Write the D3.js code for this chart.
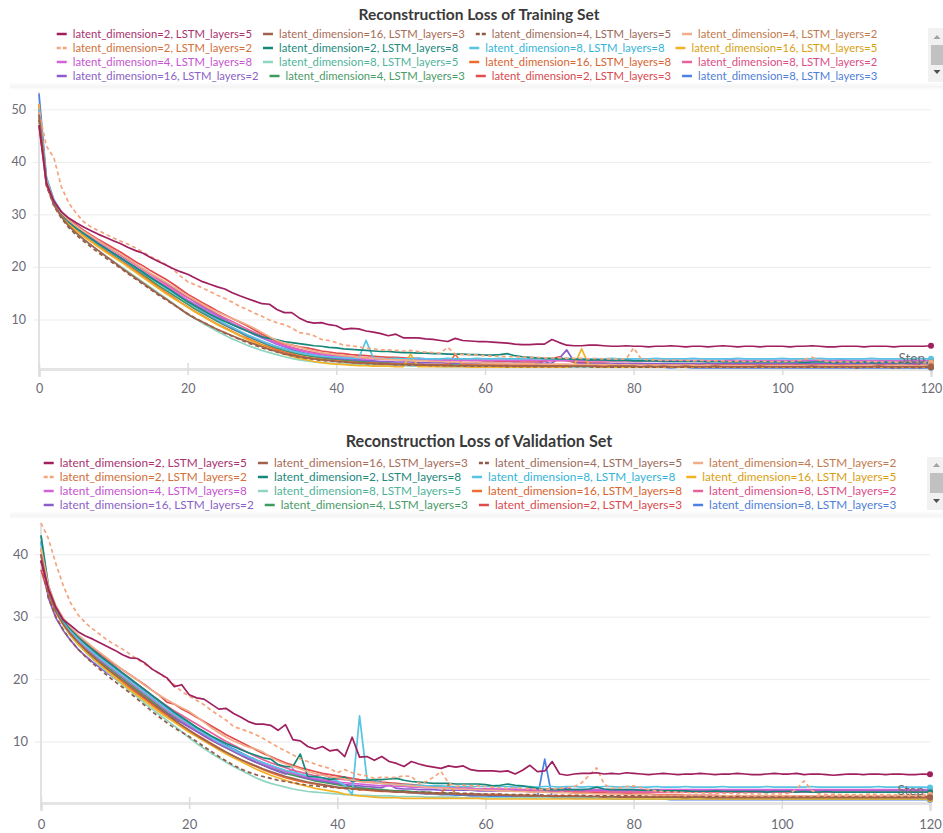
<!DOCTYPE html>
<html>
<head>
<meta charset="utf-8">
<script src="https://cdn.jsdelivr.net/npm/d3@7/dist/d3.min.js"></script>
<style>
  body { margin: 0; background: #fff; }
  svg { display: block; font-family: "Source Sans Pro", Lato, "Noto Sans", sans-serif; }
</style>
</head>
<body>
<script>
//x values: training step of every logged point
var steps = d3.range(0, 121);
var xTicks = [0, 20, 40, 60, 80, 100, 120];
var trainYTicks = [10, 20, 30, 40, 50];
var validYTicks = [10, 20, 30, 40];

//runs, in legend order
var runNames = [
  "latent_dimension=2, LSTM_layers=5", "latent_dimension=16, LSTM_layers=3", "latent_dimension=4, LSTM_layers=5", "latent_dimension=4, LSTM_layers=2",
  "latent_dimension=2, LSTM_layers=2", "latent_dimension=2, LSTM_layers=8", "latent_dimension=8, LSTM_layers=8", "latent_dimension=16, LSTM_layers=5",
  "latent_dimension=4, LSTM_layers=8", "latent_dimension=8, LSTM_layers=5", "latent_dimension=16, LSTM_layers=8", "latent_dimension=8, LSTM_layers=2",
  "latent_dimension=16, LSTM_layers=2", "latent_dimension=4, LSTM_layers=3", "latent_dimension=2, LSTM_layers=3", "latent_dimension=8, LSTM_layers=3"
];
var lineColors = ["#a01f5f", "#a0624c", "#8f5a48", "#f1ac88", "#f4a57e", "#17877a", "#56c4e2", "#f2b328",
                  "#d363d8", "#8fd5c1", "#ee6c30", "#e9619a", "#8c5ccd", "#3e9a5e", "#e24c4c", "#4d80e4"];
var labelColors = ["#a8326e", "#a86b57", "#9b6b5b", "#c27a4e", "#d2703a", "#23897c", "#35b4d8", "#d9a012",
                   "#c653cf", "#4fb39a", "#d86430", "#dc4c86", "#8a62c5", "#4b9a67", "#d84a4e", "#4f80d8"];
var dashedRuns = ["latent_dimension=4, LSTM_layers=5", "latent_dimension=2, LSTM_layers=2"];

//reconstruction loss, training set
var train_2_5 = [47,36,32.5,30.5,29.3,28.4,27.6,26.9,26.2,25.6,25.0,
  24.4,23.7,23.1,22.6,21.8,21.1,20.4,19.7,19.1,18.6, 17.9,17.2,16.7,16.2,15.8,15.1,14.5,14.0,13.5,13.0,
  12.9,11.9,11.3,11.3,10.3,9.6,9.3,9.4,9.0,8.8, 8.1,8.3,8.2,7.8,7.6,7.3,6.9,7.2,6.5,6.5,
  6.5,6.3,6.2,6.0,5.8,6.4,6.0,5.9,5.8,5.8, 5.7,5.6,5.5,5.3,5.2,5.2,5.3,5.3,6.2,5.6,
  5.1,5.0,5.0,5.1,5.1,5.0,4.9,4.9,5.0,4.9, 4.9,4.8,4.9,4.9,5.0,4.9,4.8,4.9,4.9,4.8,
  4.9,5.0,4.9,4.8,4.9,4.9,4.8,4.9,4.9,4.9, 4.8,4.9,4.9,5.0,4.9,4.8,4.8,4.9,4.9,4.9,
  4.8,4.9,4.9,4.9,4.8,4.9,4.9,4.9,4.9,5.0];
var train_16_3 = [49,36,31.8,29.6,27.8,26.5,25.3,24.2,23.1,22.0,21.0,
  19.9,18.9,17.9,16.9,15.9,14.9,14.0,13.0,12.0,11.0, 10.2,9.5,8.8,8.1,7.5,6.9,6.3,5.8,5.3,4.8,
  4.3,3.9,3.5,3.2,2.9,2.7,2.5,2.3,2.2,2.0, 1.9,1.8,1.7,1.7,1.6,1.5,1.5,1.4,1.4,1.4,
  1.3,1.3,1.3,1.3,1.2,1.2,1.2,1.2,1.2,1.2, 1.2,1.1,1.2,1.1,1.1,1.1,1.2,1.1,1.1,1.1,
  1.1,1.1,1.1,1.1,1.1,1.0,1.1,1.1,1.1,1.1, 1.0,1.1,1.0,1.1,1.0,1.0,1.1,1.0,1.0,1.0,
  1.1,1.0,1.0,1.0,1.0,1.0,1.1,1.0,1.0,1.0, 1.0,1.0,1.0,1.1,1.0,1.0,1.0,1.0,1.0,1.0,
  1.0,1.0,1.1,1.0,1.0,1.0,1.0,1.0,1.0,1.1];
var train_4_5 = [48,35.5,31.6,29.3,27.5,26.1,24.9,23.8,22.7,21.7,20.7,
  19.7,18.7,17.7,16.7,15.7,14.7,13.8,12.9,12.0,11.1, 10.3,9.5,8.8,8.1,7.4,6.8,6.2,5.6,5.1,4.6,
  4.2,3.8,3.4,3.1,2.8,2.6,2.4,2.2,2.1,2.0, 1.9,1.8,1.7,1.6,1.6,1.5,1.5,1.4,1.4,1.3,
  1.3,1.3,1.2,1.2,1.2,1.2,1.1,1.1,1.1,1.1, 1.1,1.1,1.0,1.1,1.0,1.0,1.0,1.0,1.0,1.0,
  1.0,1.0,1.0,1.0,0.9,1.0,0.9,0.9,1.0,0.9, 0.9,0.9,0.9,0.9,0.9,0.9,0.9,0.9,0.9,0.9,
  0.9,0.9,0.9,0.9,0.9,0.9,0.9,0.9,0.9,0.9, 0.9,0.9,0.9,0.9,0.9,0.9,0.9,0.9,0.9,0.8,
  0.9,0.9,0.9,0.9,0.8,0.9,0.9,0.8,0.9,0.9];
var train_4_2 = [49,36.5,32.5,30.3,28.9,27.8,26.8,25.9,25.0,24.1,23.2,
  22.4,21.5,20.6,19.7,18.8,18.0,17.2,16.3,15.4,14.5, 13.7,12.9,12.1,11.4,10.8,10.2,9.6,9.0,8.3,7.5,
  6.7,6.0,5.5,5.1,4.7,4.3,4.0,3.7,3.5,3.3, 3.1,3.0,2.8,2.7,2.6,2.5,2.4,2.3,2.3,2.2,
  2.1,2.1,2.0,2.0,1.9,1.9,1.8,1.8,1.8,1.7, 1.7,1.7,1.6,1.6,1.6,1.6,1.5,1.5,1.5,1.5,
  1.5,1.4,1.4,1.4,1.4,1.4,1.4,1.3,1.4,1.3, 1.3,1.3,1.3,1.3,1.3,1.3,1.3,1.3,1.2,1.3,
  1.2,1.2,1.2,1.2,1.2,1.2,1.2,1.2,1.2,1.2, 1.2,1.2,1.2,1.2,1.2,1.2,1.2,1.1,1.2,1.2,
  1.2,1.2,1.1,1.2,1.2,1.2,1.2,1.1,1.2,1.2];
var train_2_2 = [49.5,43,40.8,35.3,32.2,30.2,28.6,27.6,26.9,26.2,25.5,
  24.9,24.3,23.6,22.8,22.0,21.3,20.5,19.6,18.3,17.2, 16.6,16.0,15.3,14.6,14.0,13.3,12.5,11.9,11.2,10.6,
  9.9,9.4,9.0,8.4,7.5,7.3,6.9,6.2,6.0,5.6, 5.1,5.0,4.8,4.5,4.4,4.2,4.2,4.1,4.0,4.1,
  3.9,3.8,3.7,3.6,4.7,3.4,3.3,3.3,3.2,3.1, 3.0,3.0,2.9,2.9,2.8,2.8,2.8,2.7,2.7,2.7,
  2.6,2.6,2.6,2.5,2.6,2.5,2.5,2.4,2.5,4.6, 2.5,2.3,2.3,2.2,2.3,2.2,2.2,2.1,2.2,2.1,
  2.1,2.1,2.0,2.1,2.0,2.0,2.1,2.0,2.0,2.0, 2.0,2.1,2.4,2.8,2.3,2.0,1.9,2.0,1.9,1.9,
  1.9,2.0,1.9,1.9,1.9,1.8,1.9,1.9,1.8,1.8];
var train_2_8 = [49,36.5,32.3,30.1,28.6,27.4,26.4,25.4,24.4,23.5,22.6,
  21.7,20.8,19.9,19.0,18.0,17.1,16.2,15.3,14.3,13.4, 12.6,11.8,11.0,10.3,9.6,9.0,8.4,7.8,7.2,6.7,
  6.4,6.1,5.8,5.6,5.4,5.2,5.0,4.9,4.7,4.6, 4.4,4.3,4.2,4.1,4.0,3.9,3.9,3.8,3.7,3.7,
  3.6,3.6,3.5,3.5,3.4,3.4,3.4,3.3,3.3,3.2, 3.2,3.3,3.5,3.1,2.9,2.8,2.7,2.6,2.6,2.5,
  2.5,2.4,2.4,2.3,2.3,2.3,2.2,2.2,2.2,2.1, 2.1,2.1,2.1,2.0,2.0,2.0,2.0,2.0,2.0,1.9,
  2.0,1.9,1.9,1.9,1.9,1.9,1.9,1.9,1.9,1.9, 1.9,1.9,1.8,1.9,1.9,1.9,1.8,1.9,1.9,1.8,
  1.9,1.8,1.8,1.9,1.8,1.8,1.8,1.9,1.8,1.8];
var train_8_8 = [50,37,32.5,30.2,28.6,27.4,26.3,25.3,24.3,23.4,22.5,
  21.6,20.7,19.8,18.9,18.0,17.0,16.0,15.1,14.2,13.3, 12.4,11.6,10.8,10.0,9.2,8.5,7.8,7.1,6.5,5.9,
  5.3,4.8,4.4,4.0,3.7,3.4,3.2,3.0,2.9,2.8, 2.7,2.6,2.6,6.0,2.6,2.6,2.5,2.6,2.5,2.5,
  2.6,2.5,2.5,2.5,2.6,2.5,2.5,2.5,2.6,2.5, 2.5,2.6,2.5,2.5,2.5,2.6,2.5,2.5,2.5,2.5,
  2.6,2.5,2.5,2.5,2.5,2.5,2.6,2.5,2.5,2.5, 2.5,2.5,2.6,2.5,2.5,2.5,2.5,2.6,2.5,2.5,
  2.5,2.5,2.5,2.6,2.5,2.5,2.5,2.5,2.5,2.6, 2.5,2.5,2.5,2.5,2.6,2.5,2.5,2.5,2.5,2.5,
  2.5,2.6,2.5,2.5,2.5,2.5,2.5,2.6,2.5,2.5];
var train_16_5 = [51,36,32,29.7,28.1,26.9,25.8,24.8,23.8,22.8,21.9,
  21.0,20.0,19.0,18.0,17.0,16.0,15.0,14.1,13.2,12.3, 11.4,10.6,9.8,9.0,8.3,7.6,6.9,6.2,5.6,5.0,
  4.4,3.9,3.4,3.0,2.6,2.3,2.0,1.8,1.6,1.5, 1.4,1.3,1.2,1.2,1.1,1.1,1.1,1.0,1.0,3.4,
  1.0,1.0,1.0,1.0,1.0,1.0,1.0,0.9,0.9,0.9, 0.9,0.9,0.9,0.9,0.9,0.9,0.9,0.9,0.9,0.9,
  0.9,1.3,4.4,1.2,0.9,0.9,0.9,0.9,0.9,0.9, 0.9,0.9,0.9,0.9,0.9,0.9,0.9,0.9,0.9,0.9,
  0.9,0.9,0.9,0.9,0.9,0.9,0.9,0.9,0.9,0.9, 0.9,0.9,0.9,0.9,0.9,0.9,0.9,0.9,0.9,0.9,
  0.9,0.9,0.9,0.9,0.9,0.9,0.9,0.9,0.9,0.9];
var train_4_8 = [50,36.5,32.4,30.2,28.7,27.5,26.5,25.5,24.5,23.6,22.7,
  21.8,20.9,20.0,19.1,18.2,17.3,16.4,15.5,14.6,13.7, 12.9,12.1,11.3,10.5,9.8,9.1,8.4,7.8,7.2,6.6,
  6.0,5.4,4.9,4.5,4.1,3.8,3.5,3.3,3.1,2.9, 2.8,2.7,2.6,2.5,2.5,2.4,2.4,2.4,2.3,2.3,
  2.3,2.3,2.3,2.2,2.2,2.2,2.2,2.2,2.2,2.2, 2.2,2.2,2.2,2.2,2.2,2.3,2.2,2.2,2.2,2.2,
  2.2,2.2,2.2,2.2,2.2,2.2,2.2,2.2,2.3,2.2, 2.2,2.2,2.2,2.2,2.2,2.2,2.2,2.2,2.2,2.2,
  2.2,2.2,2.3,2.2,2.2,2.2,2.2,2.2,2.2,2.2, 2.2,2.2,2.2,2.2,2.2,2.2,2.2,2.3,2.2,2.2,
  2.2,2.2,2.2,2.2,2.2,2.2,2.2,2.2,2.2,2.2];
var train_8_5 = [50,36.5,31.9,29.5,27.7,26.4,25.2,24.1,23.1,22.1,21.1,
  20.1,19.1,18.1,17.1,16.1,15.1,14.1,13.1,12.1,11.1, 10.2,9.3,8.5,7.7,7.0,6.3,5.7,5.1,4.6,4.1,
  3.7,3.3,2.9,2.6,2.3,2.1,1.9,1.8,1.7,1.6, 1.5,1.5,1.4,1.4,1.3,1.3,1.2,1.2,1.2,1.1,
  1.1,1.1,1.1,1.0,1.0,1.0,1.0,1.0,1.0,1.0, 1.0,1.0,1.0,1.0,1.0,1.0,1.0,0.9,1.0,0.9,
  0.9,0.9,0.9,0.9,0.9,0.9,0.9,0.9,0.9,0.9, 0.9,0.9,0.9,0.9,0.9,0.9,0.9,0.9,0.9,0.9,
  0.9,0.9,0.9,0.9,0.9,0.9,0.9,0.9,0.9,0.9, 0.9,0.9,0.9,0.9,0.9,0.9,0.9,0.9,0.9,0.9,
  0.9,0.9,0.9,0.9,0.9,0.9,0.9,0.9,0.9,0.9];
var train_16_8 = [50,36,32.2,30,28.4,27.1,26.0,25.0,24.0,23.0,22.0,
  21.1,20.2,19.2,18.2,17.2,16.2,15.2,14.3,13.3,12.4, 11.5,10.7,9.9,9.1,8.4,7.7,7.0,6.4,5.8,5.2,
  4.7,4.2,3.8,3.4,3.1,2.8,2.6,2.4,2.2,2.1, 2.0,1.9,1.8,1.7,1.7,1.6,1.6,1.5,1.5,1.5,
  1.4,1.4,1.4,1.4,1.4,3.4,1.4,1.3,1.3,1.3, 1.3,1.3,1.3,1.3,1.3,1.3,1.3,1.3,1.3,1.3,
  1.3,1.3,1.3,1.3,1.3,1.2,1.3,1.3,1.2,1.3, 1.2,1.2,1.3,1.2,1.2,1.2,1.2,1.2,1.2,1.2,
  1.2,1.2,1.2,1.2,1.2,1.2,1.2,1.2,1.2,1.2, 1.2,1.2,1.2,1.2,1.2,1.2,1.2,1.2,1.2,1.2,
  1.2,1.2,1.2,1.2,1.2,1.2,1.2,1.2,1.2,1.2];
var train_8_2 = [50,36.5,32.5,30.3,28.8,27.7,26.7,25.8,24.9,24.0,23.1,
  22.2,21.3,20.4,19.5,18.6,17.7,16.8,15.9,15.0,14.2, 13.4,12.6,11.8,11.0,10.3,9.6,8.9,8.2,7.5,6.8,
  6.1,5.6,5.1,4.7,4.3,4.0,3.7,3.5,3.3,3.1, 3.0,2.9,2.8,2.7,2.6,2.6,2.5,2.5,2.4,2.4,
  2.4,2.3,2.3,2.3,2.3,2.2,2.2,2.2,2.2,2.2, 2.2,2.2,2.2,2.2,2.2,2.1,2.2,2.2,2.1,2.2,
  2.1,2.1,2.1,2.1,2.1,2.1,2.1,2.1,2.1,2.1, 2.1,2.1,2.1,2.1,2.1,2.1,2.1,2.1,2.1,2.1,
  2.1,2.1,2.1,2.1,2.1,2.1,2.1,2.1,2.1,2.1, 2.1,2.1,2.1,2.1,2.1,2.1,2.1,2.1,2.1,2.1,
  2.1,2.1,2.1,2.1,2.1,2.1,2.1,2.1,2.1,2.1];
var train_16_2 = [51,36.5,32.3,30.0,28.4,27.2,26.2,25.2,24.3,23.4,22.5,
  21.6,20.7,19.8,18.9,18.0,17.1,16.2,15.3,14.3,13.3, 12.4,11.5,10.7,9.9,9.1,8.4,7.7,7.0,6.4,5.8,
  5.3,4.8,4.4,4.0,3.7,3.4,3.2,3.0,2.8,2.6, 2.5,2.4,2.3,2.2,2.1,2.0,2.0,1.9,1.9,1.9,
  1.8,1.8,1.8,1.8,1.7,1.7,1.7,1.7,1.7,1.7, 1.7,1.7,1.6,1.7,1.6,1.6,1.6,1.6,1.7,2.6,
  4.2,1.9,1.6,1.6,1.6,1.6,1.6,1.6,1.6,1.6, 1.6,1.6,1.6,1.6,1.6,1.6,1.6,1.6,1.6,1.6,
  1.6,1.6,1.6,1.6,1.6,1.6,1.6,1.6,1.6,1.6, 1.6,1.6,1.6,1.6,1.6,1.6,1.6,1.6,1.6,1.6,
  1.6,1.6,1.6,1.6,1.6,1.6,1.6,1.6,1.6,1.6];
var train_4_3 = [50,36.3,32.2,30,28.4,27.2,26.1,25.1,24.1,23.2,22.3,
  21.4,20.5,19.5,18.5,17.5,16.5,15.6,14.7,13.8,12.9, 12.0,11.2,10.4,9.6,8.9,8.2,7.5,6.8,6.2,5.6,
  5.0,4.5,4.1,3.7,3.4,3.1,2.9,2.7,2.5,2.4, 2.2,2.1,2.0,1.9,1.8,1.7,1.7,1.6,1.6,1.5,
  1.5,1.4,1.4,1.4,1.3,1.3,1.3,1.3,1.2,1.2, 1.2,1.2,1.2,1.1,1.2,1.1,1.1,1.1,1.1,1.1,
  1.1,1.1,1.1,1.0,1.1,1.0,1.0,1.0,1.0,1.0, 1.0,1.0,1.0,1.0,1.0,1.0,1.0,1.0,1.0,1.0,
  1.0,1.0,1.0,1.0,1.0,1.0,1.0,1.0,1.0,1.0, 1.0,1.0,1.0,1.0,1.0,1.0,1.0,1.0,1.0,1.0,
  1.0,1.0,1.0,1.0,1.0,1.0,1.0,1.0,1.0,1.0];
var train_2_3 = [47,35.5,32.0,30.3,29.0,28.0,27.0,26.1,25.2,24.4,23.6,
  22.8,21.9,21.0,20.2,19.3,18.5,17.7,16.8,15.8,14.8, 14.0,13.2,12.4,11.6,10.9,10.2,9.5,8.8,8.0,7.2,
  6.5,5.8,5.4,5.1,4.8,4.6,4.3,4.0,3.8,3.6, 3.5,3.3,3.2,3.1,3.0,2.9,2.8,2.8,2.7,2.6,
  2.6,2.5,2.5,2.4,2.4,2.3,2.3,2.2,2.2,2.1, 2.1,2.0,2.0,2.0,1.9,1.9,1.9,2.0,2.5,2.9,
  2.2,1.8,1.8,1.7,1.7,1.7,1.6,1.6,1.6,1.6, 1.6,1.5,1.5,1.5,1.5,1.5,1.5,1.4,1.5,1.4,
  1.4,1.4,1.4,1.4,1.4,1.4,1.3,1.4,1.4,1.3, 1.3,1.4,1.3,1.3,1.3,1.3,1.3,1.3,1.3,1.3,
  1.3,1.2,1.3,1.3,1.3,1.2,1.3,1.3,1.2,1.3];
var train_8_3 = [53,37,32.8,30.5,29.0,27.9,26.9,25.9,25.0,24.1,23.2,
  22.3,21.4,20.5,19.6,18.7,17.8,16.9,16.0,15.1,14.2, 13.3,12.4,11.6,10.8,10.0,9.2,8.5,7.8,7.1,6.5,
  5.9,5.3,4.8,4.3,3.9,3.5,3.2,2.9,2.7,2.5, 2.3,2.2,2.1,2.0,1.9,1.8,1.7,1.6,1.5,1.5,
  1.4,1.4,1.3,1.3,1.3,1.2,1.2,1.2,1.1,1.1, 1.1,1.1,1.0,1.0,1.0,1.0,1.4,2.2,1.2,1.0,
  0.9,0.9,0.9,0.9,0.9,0.9,0.9,0.9,0.9,0.9, 0.9,0.9,0.9,0.9,0.8,0.9,0.9,0.8,0.8,0.8,
  0.8,0.8,0.8,0.8,0.8,0.8,0.8,0.8,0.8,0.8, 0.8,0.8,0.8,0.8,0.8,0.8,0.8,0.8,0.8,0.8,
  0.8,0.8,0.8,0.8,0.8,0.8,0.8,0.8,0.8,0.8];

//reconstruction loss, validation set
var valid_2_5 = [39,34.5,31.5,29.5,28.6,27.6,26.9,26.4,25.8,25.2,24.6,
  23.9,23.4,23.3,22.6,21.6,20.9,20.2,18.8,19.1,17.5, 17.0,16.8,16.0,15.2,15.3,14.5,13.9,13.2,12.8,12.8,
  12.6,11.8,12.7,10.3,10.1,9.2,8.8,9.2,8.5,8.7, 7.6,10.7,7.5,7.6,7.0,7.6,6.8,6.5,6.0,6.8,
  6.4,6.1,5.9,5.7,6.1,5.9,6.1,5.5,5.3,5.3, 5.3,5.2,5.3,4.8,5.4,6.2,5.2,5.3,6.8,4.8,
  4.6,4.8,4.9,4.9,5.0,4.8,4.9,4.8,5.0,4.9, 4.8,4.7,4.8,4.9,4.8,4.7,4.8,4.8,4.9,4.8,
  4.7,4.8,4.8,4.9,4.8,4.7,4.7,4.8,4.9,4.8, 4.8,4.9,4.7,4.8,4.8,4.7,4.6,4.7,4.8,4.8,
  4.7,4.8,4.8,4.7,4.8,4.8,4.7,4.7,4.8,4.75];
var valid_16_3 = [40,34,30.8,28.8,27.2,25.9,24.7,23.6,22.6,21.6,20.7,
  19.8,18.9,18.0,17.1,16.2,15.3,14.4,13.5,12.6,11.8, 11.0,10.3,9.6,8.9,8.3,7.7,7.1,6.6,6.1,5.6,
  5.2,4.8,4.4,4.1,3.8,3.5,3.3,3.1,2.9,2.7, 2.6,2.5,2.4,2.3,2.2,2.1,2.0,1.9,1.9,1.8,
  1.8,1.7,1.7,1.6,1.6,1.6,1.5,1.5,1.5,1.4, 1.4,1.4,1.4,1.3,1.3,1.3,1.3,1.3,1.2,1.2,
  1.2,1.2,1.2,1.2,1.2,1.1,1.2,1.1,1.1,1.1, 1.1,1.1,1.1,1.1,1.1,1.1,1.0,1.1,1.1,1.0,
  1.0,1.0,1.0,1.0,1.0,1.0,1.0,1.0,1.0,1.0, 1.0,1.0,1.0,1.0,1.0,1.0,1.0,1.0,1.0,1.0,
  1.0,1.0,1.0,1.0,1.0,1.0,1.0,1.0,1.0,1.0];
var valid_4_5 = [39,33,30,27.9,26.2,24.8,23.6,22.5,21.5,20.5,19.6,
  18.7,17.8,16.8,15.8,14.8,13.9,13.0,12.2,11.5,10.8, 10.0,9.2,8.4,7.6,6.9,6.2,5.6,5.1,4.7,4.4,
  4.1,3.8,3.6,3.4,3.2,3.0,2.9,2.8,2.7,2.6, 2.5,2.4,2.3,2.3,2.2,2.1,2.1,2.0,2.0,1.9,
  1.9,1.9,1.8,1.8,1.8,1.7,1.7,1.7,1.6,1.6, 1.6,1.6,1.5,1.5,1.5,1.5,1.5,1.4,1.4,1.4,
  1.4,1.4,1.4,1.3,1.3,1.3,1.3,1.3,1.3,1.3, 1.3,1.2,1.2,1.2,1.2,1.2,1.2,1.2,1.2,1.2,
  1.2,1.2,1.1,1.2,1.1,1.1,1.1,1.1,1.1,1.1, 1.1,1.1,1.1,1.1,1.1,1.1,1.1,1.1,1.1,1.1,
  1.1,1.1,1.1,1.1,1.1,1.1,1.1,1.1,1.1,1.1];
var valid_4_2 = [41,35,31.8,29.8,28.3,27.1,26.1,25.1,24.2,23.3,22.4,
  21.5,20.7,19.9,19.0,18.2,17.4,16.7,16.0,15.4,14.8, 14.0,13.1,12.2,11.4,10.7,10.1,9.6,9.1,8.8,8.3,
  7.5,6.9,6.4,6.0,5.6,5.2,4.9,4.6,4.4,4.2, 4.0,3.8,3.6,3.5,3.4,3.3,3.2,3.1,3.0,2.9,
  2.8,2.7,2.6,2.6,2.5,2.4,2.4,2.3,2.3,2.2, 2.2,2.1,2.1,2.0,2.0,1.9,1.9,1.9,1.8,1.8,
  1.8,1.7,1.7,1.7,1.6,1.6,1.6,1.6,1.5,1.5, 1.5,1.5,1.4,1.4,1.4,1.4,1.4,1.3,1.3,1.3,
  1.3,1.3,1.3,1.3,1.3,1.3,1.3,1.3,1.3,1.3, 1.3,1.3,1.3,1.3,1.3,1.3,1.3,1.3,1.3,1.3,
  1.3,1.3,1.3,1.3,1.3,1.3,1.3,1.3,1.3,1.3];
var valid_2_2 = [45,42.5,38.5,35,32.2,30.3,29.0,28.0,27.1,26.2,25.5,
  24.8,24.0,23.2,22.4,21.6,20.9,20.0,19.1,18.0,17.3, 16.6,15.9,15.0,14.2,13.4,12.4,12.0,11.6,11.1,10.5,
  9.8,9.1,8.5,7.9,7.2,6.8,6.4,6.0,5.7,5.0, 5.5,5.0,4.7,4.5,4.1,4.3,4.2,4.3,4.5,4.4,
  3.3,3.6,4.3,5.2,3.4,2.8,3.0,2.9,2.9,2.8, 2.7,2.6,2.5,2.6,2.5,2.4,2.4,2.3,2.4,2.5,
  2.6,2.8,3.4,4.6,5.8,3.2,2.5,2.6,2.8,2.9, 2.6,2.3,2.1,2.0,1.9,1.9,1.8,1.8,1.8,1.7,
  1.7,1.7,1.7,1.6,1.7,1.6,1.6,1.6,1.6,1.6, 1.7,2.4,3.7,2.2,1.6,1.5,1.6,1.5,1.5,1.5,
  1.5,1.6,1.5,1.5,1.5,1.4,1.5,1.5,1.5,1.5];
var valid_2_8 = [43,35,31.5,29.5,28.0,26.8,25.7,24.7,23.7,22.8,21.9,
  21.0,20.1,19.2,18.3,17.4,16.5,15.6,14.7,13.9,13.1, 12.3,11.6,10.9,10.3,9.7,9.2,8.7,8.2,7.8,7.4,
  7.2,6.3,6.0,6.0,8.0,4.4,4.4,4.2,3.9,4.1, 4.3,3.6,3.7,3.8,3.9,3.9,4.0,4.1,3.8,3.6,
  3.5,3.4,3.3,3.3,3.3,3.2,3.2,3.2,3.2,3.1, 2.9,3.0,3.2,3.0,2.9,2.7,2.5,2.3,2.3,2.3,
  2.3,2.3,2.3,2.4,2.7,2.4,2.3,2.3,2.3,2.3, 2.2,2.2,2.2,2.1,2.1,2.1,2.1,2.0,2.0,2.0,
  2.1,2.0,2.0,2.0,2.0,2.0,2.0,1.9,2.0,2.0, 2.0,1.9,2.0,1.9,1.9,2.0,1.9,1.9,1.9,1.9,
  1.9,1.9,1.9,1.9,1.9,1.9,1.9,1.9,1.9,1.9];
var valid_8_8 = [42,34.5,31.2,29.2,27.7,26.4,25.3,24.3,23.3,22.4,21.5,
  20.6,19.7,18.8,17.9,17.0,16.1,15.2,14.4,13.6,12.8, 12.0,11.3,10.6,9.9,9.3,8.7,8.1,7.6,7.1,6.6,
  6.2,5.8,5.4,5.1,4.8,4.5,4.3,4.2,4.0,3.7, 3.0,1.5,14.1,4.0,3.8,3.3,3.2,3.1,3.1,3.0,
  3.0,2.9,2.9,2.9,2.8,2.8,2.8,2.8,2.8,2.8, 2.8,2.8,2.8,2.7,2.8,2.8,2.7,2.8,2.8,2.7,
  2.8,2.8,2.7,2.8,2.7,2.8,2.8,2.7,2.8,2.7, 2.7,2.7,2.8,2.7,2.7,2.7,2.8,2.7,2.7,2.7,
  2.7,2.8,2.7,2.7,2.7,2.7,2.7,2.8,2.7,2.7, 2.7,2.7,2.7,2.8,2.7,2.7,2.7,2.7,2.7,2.7,
  2.7,2.7,2.8,2.7,2.7,2.7,2.7,2.7,2.7,2.65];
var valid_16_5 = [41,34,30.8,28.7,27.0,25.6,24.4,23.3,22.3,21.3,20.3,
  19.3,18.3,17.4,16.5,15.6,14.7,13.9,13.1,12.3,11.5, 10.8,10.1,9.4,8.7,8.0,7.4,6.8,6.2,5.6,5.1,
  4.6,4.2,3.8,3.4,3.1,2.8,2.5,2.3,2.1,1.9, 1.6,1.4,1.3,1.2,1.1,1.0,1.0,1.0,0.9,0.9,
  0.9,0.9,0.9,0.9,0.9,0.9,0.9,0.9,0.9,0.8, 0.8,0.8,0.8,0.8,0.8,0.8,0.8,0.8,0.8,0.8,
  0.8,0.8,0.8,0.8,0.8,0.8,0.8,0.8,0.8,0.8, 0.8,0.8,0.8,0.8,0.8,0.8,0.8,0.8,0.8,0.8,
  0.8,0.8,0.8,0.8,0.8,0.8,0.8,0.8,0.8,0.8, 0.8,0.8,0.8,0.8,0.8,0.8,0.8,0.8,0.8,0.8,
  0.8,0.8,0.8,0.8,0.8,0.8,0.8,0.8,0.8,0.8];
var valid_4_8 = [40,34,31.0,29.0,27.5,26.2,25.1,24.1,23.1,22.2,21.3,
  20.4,19.5,18.6,17.7,16.8,15.9,15.0,14.2,13.4,12.6, 11.9,11.2,10.5,9.8,9.2,8.6,8.0,7.5,7.0,6.5,
  6.0,5.6,5.2,4.9,4.6,4.3,4.1,3.9,3.7,3.5, 3.4,3.3,3.2,3.1,3.0,2.9,2.9,2.8,2.8,2.7,
  2.7,2.6,2.6,2.6,2.5,2.5,2.5,2.5,2.4,2.4, 2.4,2.4,2.4,2.4,2.3,2.4,2.3,2.3,2.3,2.3,
  2.3,2.3,2.3,2.3,2.3,2.3,2.3,2.3,2.3,2.3, 2.3,2.3,2.3,2.3,2.3,2.3,2.3,2.3,2.3,2.3,
  2.3,2.3,2.3,2.3,2.3,2.3,2.3,2.3,2.3,2.3, 2.3,2.3,2.3,2.3,2.3,2.3,2.3,2.3,2.3,2.3,
  2.3,2.3,2.3,2.3,2.3,2.3,2.3,2.3,2.3,2.3];
var valid_8_5 = [43,34.5,30.8,28.6,26.9,25.5,24.3,23.2,22.1,21.1,20.1,
  19.1,18.1,17.1,16.1,15.2,14.3,13.4,12.5,11.6,10.6, 9.7,8.9,8.1,7.4,6.7,6.0,5.4,4.8,4.2,3.7,
  3.3,3.0,2.7,2.4,2.2,2.0,1.9,1.8,1.7,1.6, 1.5,1.5,1.4,1.4,1.3,1.3,1.3,1.2,1.2,1.2,
  1.2,1.1,1.1,1.1,1.1,1.1,1.0,1.0,1.0,1.0, 1.0,1.0,1.0,1.0,1.0,1.0,1.0,1.0,1.0,1.0,
  1.0,1.0,1.0,0.9,1.0,0.9,0.9,0.9,0.9,0.9, 0.9,0.9,0.9,0.9,0.9,0.9,0.9,0.9,0.9,0.9,
  0.9,0.9,0.9,0.9,0.9,0.9,0.9,0.9,0.9,0.9, 0.9,0.9,0.9,0.9,0.9,0.9,0.9,0.9,0.9,0.9,
  0.9,0.9,0.9,0.9,0.9,0.9,0.9,0.9,0.9,0.9];
var valid_16_8 = [40,33.8,30.7,28.7,27.1,25.8,24.6,23.5,22.5,21.5,20.5,
  19.5,18.6,17.7,16.8,15.9,15.0,14.1,13.3,12.5,11.8, 11.1,10.4,9.7,9.0,8.3,7.7,7.1,6.5,6.0,5.5,
  5.0,4.6,4.2,3.9,3.6,3.4,3.2,3.0,2.8,2.6, 2.5,2.4,2.3,2.2,2.1,2.0,2.0,1.9,1.9,1.8,
  1.8,1.7,1.7,1.7,3.1,1.6,1.6,1.6,1.5,1.5, 1.5,1.5,1.4,1.4,1.4,1.4,1.3,1.3,1.3,1.3,
  1.3,1.3,1.2,1.2,1.2,1.2,1.2,1.2,1.1,1.1, 1.1,1.1,1.1,1.1,1.1,1.1,1.1,1.1,1.1,1.1,
  1.1,1.1,1.1,1.1,1.1,1.1,1.1,1.1,1.1,1.1, 1.1,1.1,1.1,1.1,1.1,1.1,1.1,1.1,1.1,1.1,
  1.1,1.1,1.1,1.1,1.1,1.1,1.1,1.1,1.1,1.1];
var valid_8_2 = [39,34,31.0,29.2,27.8,26.6,25.6,24.6,23.7,22.8,21.9,
  21.0,20.1,19.2,18.3,17.4,16.5,15.7,14.9,14.2,13.5, 12.8,12.1,11.4,10.7,10.0,9.4,8.8,8.2,7.6,7.1,
  6.6,6.2,5.8,5.4,5.1,4.8,4.5,4.8,4.2,4.0, 3.9,3.8,3.6,3.5,3.4,3.3,3.2,3.1,3.0,2.9,
  2.9,2.8,2.7,2.7,2.6,2.6,2.5,2.5,2.4,2.4, 2.4,2.3,2.3,2.3,2.2,2.2,2.2,2.1,2.1,2.1,
  2.1,2.0,2.0,2.0,2.0,2.0,1.9,1.9,1.9,1.9, 1.9,1.9,1.9,1.9,1.9,1.9,1.9,1.9,1.9,1.9,
  1.9,1.9,1.9,1.9,1.9,1.9,1.9,1.9,1.9,1.9, 1.9,1.9,1.9,1.9,1.9,1.9,1.9,1.9,1.9,1.9,
  1.9,1.9,1.9,1.9,1.9,1.9,1.9,1.9,1.9,1.9];
var valid_16_2 = [40,33,29.8,27.8,26.2,24.8,23.7,22.7,21.8,20.9,20.1,
  19.3,18.5,17.7,16.9,16.1,15.3,14.5,13.7,13.0,12.3, 11.6,10.9,10.2,9.6,9.0,8.4,7.8,7.2,6.7,6.2,
  5.7,5.2,4.8,5.6,4.4,4.1,3.9,3.7,3.5,3.3, 3.1,3.0,2.9,2.8,2.7,2.6,3.1,2.5,2.4,2.4,
  2.3,2.3,2.3,2.2,2.2,2.2,2.2,2.2,2.1,2.1, 2.1,2.1,2.1,2.1,2.1,2.1,2.1,2.1,2.1,2.1,
  2.6,2.1,2.1,2.1,2.1,2.1,2.1,2.1,2.1,2.1, 2.1,2.1,2.1,2.1,2.1,2.1,2.1,2.1,2.1,2.1,
  2.2,2.2,2.2,2.2,2.2,2.2,2.2,2.2,2.2,2.2, 2.2,2.2,2.2,2.2,2.2,2.2,2.2,2.2,2.2,2.2,
  2.2,2.2,2.2,2.2,2.2,2.2,2.2,2.2,2.2,2.2];
var valid_4_3 = [41,34,30.9,28.9,27.3,26.0,24.9,23.9,22.9,21.9,21.0,
  20.1,19.2,18.3,17.4,16.5,15.6,14.7,13.9,13.1,12.4, 11.7,11.0,10.3,9.6,9.0,8.4,7.8,7.2,6.7,6.2,
  5.7,5.3,4.9,4.6,4.3,4.0,3.7,3.5,3.3,3.1, 2.9,2.8,2.6,2.5,2.4,2.3,2.2,2.1,2.1,2.0,
  1.9,1.9,1.8,1.8,1.7,1.7,1.6,1.6,1.6,1.5, 1.5,1.5,1.4,1.4,1.4,1.3,1.3,1.3,1.3,1.2,
  1.2,1.2,1.2,1.1,1.1,1.1,1.1,1.0,1.0,1.0, 1.0,1.0,1.0,0.9,0.9,0.9,0.9,0.9,0.9,0.9,
  0.9,0.9,0.9,0.9,0.9,0.9,0.9,0.9,0.9,0.9, 0.8,0.8,0.8,0.8,0.8,0.8,0.8,0.8,0.8,0.8,
  0.8,0.8,0.8,0.8,0.8,0.8,0.8,0.8,0.8,0.8];
var valid_2_3 = [37.5,33.5,31.0,29.3,28.0,26.9,25.9,24.9,24.0,23.1,22.3,
  21.5,20.7,19.9,19.1,18.2,17.4,16.3,16.0,15.2,14.6, 13.9,13.2,12.5,11.8,11.1,10.5,9.9,9.3,8.7,8.1,
  7.6,7.1,6.6,6.2,5.8,5.5,5.2,4.9,4.7,4.5, 4.3,4.1,3.9,3.8,3.7,3.5,3.4,3.3,3.2,3.1,
  3.0,2.9,2.8,2.7,2.7,2.6,2.5,2.5,2.4,2.4, 2.3,2.3,2.2,2.2,2.1,2.1,2.1,2.3,2.4,2.3,
  2.0,1.9,1.9,1.8,1.8,1.8,1.7,1.7,1.7,1.6, 1.6,1.6,1.5,1.5,1.5,1.5,1.4,1.4,1.4,1.4,
  1.4,1.3,1.3,1.3,1.3,1.3,1.3,1.3,1.2,1.2, 1.2,1.2,1.2,1.2,1.2,1.2,1.2,1.2,1.2,1.2,
  1.2,1.2,1.2,1.2,1.2,1.2,1.2,1.2,1.2,1.2];
var valid_8_3 = [42,34.5,31.3,29.4,27.9,26.7,25.6,24.6,23.6,22.7,21.8,
  20.9,20.0,19.1,18.2,17.3,16.4,15.5,14.6,13.8,13.0, 12.2,11.5,10.8,10.1,9.4,8.8,8.2,7.6,7.1,6.6,
  6.1,5.6,5.2,4.8,4.5,4.2,3.9,3.6,3.4,3.2, 3.0,2.8,2.6,2.4,2.3,2.2,2.1,2.0,1.9,1.8,
  1.7,1.6,1.6,1.5,1.5,1.4,1.4,1.3,1.3,1.3, 1.2,1.2,1.2,1.1,1.1,1.1,1.0,7.2,1.0,1.0,
  1.0,0.9,0.9,0.9,0.9,0.9,0.8,0.8,0.8,0.8, 0.8,0.8,0.8,0.8,0.7,0.7,0.7,0.7,0.7,0.7,
  0.7,0.7,0.7,0.7,0.7,0.7,0.7,0.7,0.7,0.7, 0.7,0.7,0.7,0.7,0.7,0.7,0.7,0.7,0.7,0.7,
  0.7,0.7,0.7,0.7,0.7,0.7,0.7,0.7,0.7,0.7];

var trainRuns = [train_2_5, train_16_3, train_4_5, train_4_2, train_2_2, train_2_8, train_8_8, train_16_5,
                 train_4_8, train_8_5, train_16_8, train_8_2, train_16_2, train_4_3, train_2_3, train_8_3];
var validRuns = [valid_2_5, valid_16_3, valid_4_5, valid_4_2, valid_2_2, valid_2_8, valid_8_8, valid_16_5,
                 valid_4_8, valid_8_5, valid_16_8, valid_8_2, valid_16_2, valid_4_3, valid_2_3, valid_8_3];

var svg = d3.select("body").append("svg")
    .attr("width", 943)
    .attr("height", 833);

//soft shade under each legend box
var defs = svg.append("defs");
var shade = defs.append("linearGradient").attr("id", "shade").attr("x1", 0).attr("y1", 0).attr("x2", 0).attr("y2", 1);
shade.append("stop").attr("offset", "0%").attr("stop-color", "#fff");
shade.append("stop").attr("offset", "60%").attr("stop-color", "#f4f4f4");
shade.append("stop").attr("offset", "100%").attr("stop-color", "#fff");

drawPanel({
    title: "Reconstruction Loss of Training Set", runs: trainRuns, yTicks: trainYTicks,
    titleX: 479, titleY: 20, titleSize: 15.5,
    legendRows: [34, 48, 62, 76], legendCenter: 467, legendSize: 11.3,
    left: 39, right: 931, top: 92, bottom: 369, yDomain: [0.57, 53.3],
    tickSize: 12.5, xLabelOffset: 15.5, stepY: 363,
    shadeY: 82,
    scroll: {x: 928, y: 28, w: 15, h: 54, thumbX: 931, thumbY: 45, thumbW: 12, thumbH: 20, upY: 37, downY: 72}
});
drawPanel({
    title: "Reconstruction Loss of Validation Set", runs: validRuns, yTicks: validYTicks,
    titleX: 479, titleY: 447, titleSize: 16.2,
    legendRows: [463, 477, 491, 505], legendCenter: 470, legendSize: 11.8,
    left: 41, right: 930, top: 523, bottom: 803, yDomain: [0.16, 45.0],
    tickSize: 13, xLabelOffset: 16.5, stepY: 795,
    shadeY: 511,
    scroll: {x: 927, y: 457, w: 16, h: 53, thumbX: 930, thumbY: 473, thumbW: 13, thumbH: 20, upY: 465, downY: 501}
});

function drawPanel(p){
    var g = svg.append("g");

    var x = d3.scaleLinear().domain([0, 120]).range([p.left, p.right]);
    var y = d3.scaleLinear().domain(p.yDomain).range([p.bottom, p.top]);

    //title
    g.append("text")
        .attr("x", p.titleX)
        .attr("y", p.titleY)
        .attr("text-anchor", "middle")
        .attr("font-size", p.titleSize)
        .attr("font-weight", 700)
        .attr("fill", "#3a3a3a")
        .text(p.title);

    //legend shade + rows
    g.append("rect")
        .attr("x", 10).attr("y", p.shadeY)
        .attr("width", 933).attr("height", 8)
        .attr("fill", "url(#shade)");

    for (var r = 0; r < 4; r++){
        var row = g.append("g");
        var items = [];
        for (var c = 0; c < 4; c++){
            var i = r * 4 + c;
            var item = row.append("g");
            item.append("line")
                .attr("x1", 0).attr("x2", 10)
                .attr("y1", p.legendRows[r]).attr("y2", p.legendRows[r])
                .attr("stroke", lineColors[i])
                .attr("stroke-width", 2.5)
                .attr("stroke-dasharray", dashedRuns.indexOf(runNames[i]) >= 0 ? "4,2" : null);
            var t = item.append("text")
                .attr("x", 16)
                .attr("y", p.legendRows[r])
                .attr("dy", "0.35em")
                .attr("font-size", p.legendSize)
                .attr("fill", labelColors[i])
                .text(runNames[i]);
            items.push({g: item, w: 16 + t.node().getComputedTextLength()});
        }
        var rowW = d3.sum(items, function(d){ return d.w; }) + 11 * 3;
        var cx = p.legendCenter - rowW / 2;
        items.forEach(function(d){
            d.g.attr("transform", "translate(" + cx + ",0)");
            cx += d.w + 11;
        });
    }

    //legend scrollbar
    var s = p.scroll;
    g.append("rect").attr("x", s.x).attr("y", s.y).attr("width", s.w).attr("height", s.h).attr("fill", "#f1f1f1");
    g.append("rect").attr("x", s.thumbX).attr("y", s.thumbY).attr("width", s.thumbW).attr("height", s.thumbH).attr("fill", "#c1c1c1");
    var ax = s.thumbX + s.thumbW / 2;
    g.append("path").attr("d", "M" + (ax - 3.5) + "," + (s.upY + 2) + "L" + (ax + 3.5) + "," + (s.upY + 2) + "L" + ax + "," + (s.upY - 2) + "Z").attr("fill", "#a3a3a3");
    g.append("path").attr("d", "M" + (ax - 3.5) + "," + (s.downY - 2) + "L" + (ax + 3.5) + "," + (s.downY - 2) + "L" + ax + "," + (s.downY + 2) + "Z").attr("fill", "#505050");

    //horizontal grid and y labels
    var yg = g.append("g")
        .attr("transform", "translate(" + p.left + ",0)")
        .call(d3.axisLeft(y).tickValues(p.yTicks).tickSize(-(p.right - p.left)).tickPadding(13));
    yg.attr("font-family", null).attr("font-size", null);
    yg.select(".domain").remove();
    yg.selectAll(".tick line").attr("x1", -6).attr("stroke", "#ececec");
    yg.selectAll(".tick text").attr("fill", "#6b6b76").attr("font-size", p.tickSize);

    //y axis line
    g.append("line")
        .attr("x1", p.left).attr("x2", p.left)
        .attr("y1", p.top).attr("y2", p.bottom)
        .attr("stroke", "#e2e2e2").attr("stroke-width", 2);

    //x axis
    var xg = g.append("g")
        .attr("transform", "translate(0," + p.bottom + ")")
        .call(d3.axisBottom(x).tickValues(xTicks).tickSizeOuter(0).tickSize(8).tickPadding(p.xLabelOffset - 8));
    xg.attr("font-family", null).attr("font-size", null);
    xg.select(".domain").attr("stroke", "#e4e4e4").attr("stroke-width", 3);
    xg.selectAll(".tick line").attr("y1", -6).attr("y2", 6).attr("stroke", "#dcdcdc").attr("stroke-width", 1.5);
    xg.selectAll(".tick text").attr("fill", "#6b6b76").attr("font-size", p.tickSize);

    //run lines
    var line = d3.line()
        .x(function(d, i){ return x(steps[i]); })
        .y(function(d){ return y(d); });

    for (var k = p.runs.length - 1; k >= 0; k--){
        g.append("path")
            .datum(p.runs[k])
            .attr("fill", "none")
            .attr("stroke", lineColors[k])
            .attr("stroke-width", 1.7)
            .attr("stroke-linejoin", "round")
            .attr("stroke-dasharray", dashedRuns.indexOf(runNames[k]) >= 0 ? "4,3" : null)
            .attr("d", line);
    }

    //x axis label
    g.append("text")
        .attr("x", p.right - 6)
        .attr("y", p.stepY)
        .attr("text-anchor", "end")
        .attr("font-size", 13.5)
        .attr("fill", "#707070")
        .text("Step");

    //end point of each run
    for (var m = p.runs.length - 1; m >= 0; m--){
        var vals = p.runs[m];
        g.append("circle")
            .attr("cx", x(steps[vals.length - 1]))
            .attr("cy", y(vals[vals.length - 1]))
            .attr("r", 3)
            .attr("fill", lineColors[m]);
    }
}
</script>
</body>
</html>
